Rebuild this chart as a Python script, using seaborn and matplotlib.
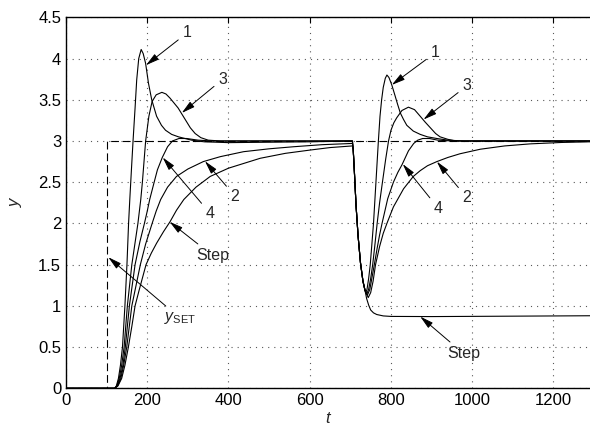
import seaborn as sns
import matplotlib.pyplot as plt
import numpy as np
import pandas as pd

# data
drop_t = [707, 710, 714, 719, 725, 731, 736]
drop_y = [2.9, 2.62, 2.22, 1.85, 1.52, 1.30, 1.19]

c1_t = [0, 120, 124, 129, 134, 139, 145, 150, 154, 157, 161, 165, 170, 174, 179, 185, 190, 196, 203,
        211, 223, 235, 245, 260, 277, 309, 340, 400, 500, 600, 705] + drop_t + \
       [738, 741, 745, 749, 753, 757, 760, 763, 766, 769, 773, 777, 781, 786, 790, 795, 802, 810, 816,
        823, 831, 839, 855, 872, 890, 913, 940, 980, 1290]
c1_y = [0, 0, 0.03, 0.12, 0.28, 0.5, 1.0, 1.5, 2.0, 2.29, 2.65, 3.0, 3.4, 3.74, 4.0, 4.11, 4.06, 3.94, 3.70,
        3.50, 3.30, 3.19, 3.13, 3.08, 3.05, 3.01, 2.99, 2.98, 2.985, 2.99, 3.0] + drop_y + \
       [1.16, 1.2, 1.33, 1.5, 1.75, 2.0, 2.25, 2.5, 2.75, 3.0, 3.3, 3.5, 3.65, 3.76, 3.80, 3.77, 3.68, 3.55, 3.45,
        3.34, 3.26, 3.19, 3.12, 3.08, 3.05, 3.03, 3.01, 3.0, 3.0]

c3_t = [0, 120, 125, 131, 137, 143, 151, 162, 177, 184, 188, 196, 204, 212, 222, 236, 246, 256, 266,
        276, 286, 296, 306, 318, 332, 350, 380, 705] + drop_t + \
       [740, 745, 750, 755, 760, 766, 772, 779, 787, 794, 800, 807, 814, 827, 843, 858, 872, 884, 897,
        910, 921, 940, 960, 1290]
c3_y = [0, 0, 0.03, 0.12, 0.28, 0.5, 1.0, 1.5, 2.0, 2.29, 2.5, 3.0, 3.3, 3.48, 3.56, 3.59, 3.57, 3.52, 3.46,
        3.40, 3.32, 3.24, 3.16, 3.09, 3.04, 3.01, 3.0, 3.0] + drop_y + \
       [1.14, 1.2, 1.33, 1.5, 1.72, 2.0, 2.25, 2.5, 2.78, 3.0, 3.13, 3.22, 3.28, 3.37, 3.41, 3.38, 3.30, 3.23, 3.16,
        3.09, 3.05, 3.02, 3.0, 3.0]

c4_t = [0, 120, 126, 133, 140, 146, 156, 170, 182, 193, 200, 206, 217, 225, 237, 250, 262, 278, 297,
        325, 360, 705] + drop_t + \
       [742, 748, 759, 766, 772, 778, 792, 806, 817, 827, 843, 856, 866, 878, 895, 915, 950, 1290]
c4_y = [0, 0, 0.03, 0.12, 0.28, 0.5, 1.0, 1.5, 1.78, 2.0, 2.15, 2.29, 2.5, 2.65, 2.8, 2.93, 3.0, 3.03, 3.03,
        3.01, 3.0, 3.0] + drop_y + \
       [1.13, 1.2, 1.5, 1.7, 1.86, 2.0, 2.3, 2.5, 2.62, 2.71, 2.88, 2.97, 3.01, 3.03, 3.03, 3.01, 3.0, 3.0]

c2_t = [0, 120, 127, 135, 142, 149.5, 162, 183, 196, 212, 222, 233, 250, 272, 300, 338, 380, 437, 500,
        560, 630, 705] + drop_t + \
       [744, 750, 756, 762, 772, 781, 790, 806, 831, 855, 872, 890, 913, 940, 970, 1020, 1080, 1143, 1220, 1290]
c2_y = [0, 0, 0.03, 0.12, 0.28, 0.5, 1.0, 1.5, 1.75, 2.0, 2.15, 2.29, 2.44, 2.57, 2.66, 2.75, 2.81, 2.87, 2.905,
        2.93, 2.955, 2.97] + drop_y + \
       [1.10, 1.16, 1.3, 1.5, 1.72, 1.88, 2.0, 2.2, 2.42, 2.57, 2.64, 2.7, 2.75, 2.8, 2.845, 2.9, 2.94, 2.965,
        2.982, 2.99]

step_t = [0, 120, 128, 137, 145, 153.5, 162, 170, 180, 197, 210, 223, 240, 256, 272, 290, 320, 355, 400,
          478, 540, 601, 650, 705] + drop_t + \
         [740, 745, 750, 757, 765, 781, 800, 900, 1100, 1290]
step_y = [0, 0, 0.03, 0.12, 0.28, 0.5, 0.75, 1.0, 1.19, 1.5, 1.64, 1.76, 1.9, 2.02, 2.16, 2.29, 2.44, 2.57, 2.67,
          2.79, 2.85, 2.89, 2.92, 2.94] + drop_y + \
         [1.09, 1.01, 0.95, 0.915, 0.895, 0.878, 0.872, 0.87, 0.875, 0.88]

sp_t = [0, 100, 100, 1290]
sp_y = [0, 0, 3, 3]

xticks = [0, 200, 400, 600, 800, 1000, 1200]
yticks = [0, 0.5, 1, 1.5, 2, 2.5, 3, 3.5, 4, 4.5]
ytick_labels = ['0', '0.5', '1', '1.5', '2', '2.5', '3', '3.5', '4', '4.5']

# labels: (text, text position, arrow tip)
labels = [
    ('1', (298, 4.31), (197, 3.92)),
    ('3', (386, 3.75), (285, 3.34)),
    ('4', (355, 2.12), (238, 2.8)),
    ('2', (416, 2.33), (342, 2.755)),
    ('Step', (361, 1.61), (255, 2.02)),
    (r'$y_{\mathrm{SET}}$', (281, 0.85), (104, 1.59)),
    ('1', (909, 4.07), (802, 3.68)),
    ('3', (987, 3.67), (880, 3.26)),
    ('4', (917, 2.18), (829, 2.72)),
    ('2', (987, 2.31), (913, 2.75)),
    ('Step', (979, 0.42), (872, 0.87)),
]

sns.set_style('white')
plt.rcParams['font.family'] = ['Liberation Sans', 'DejaVu Sans']
plt.rcParams['mathtext.fontset'] = 'custom'
plt.rcParams['mathtext.rm'] = 'Liberation Sans'
plt.rcParams['mathtext.it'] = 'Liberation Sans:italic'

fig = plt.figure(figsize=(5.9, 4.34), dpi=100)
ax = fig.add_axes([0.1119, 0.1053, 0.8881, 0.8548])

for t, y in [(c1_t, c1_y), (c3_t, c3_y), (c4_t, c4_y), (c2_t, c2_y), (step_t, step_y)]:
    sns.lineplot(x=t, y=y, ax=ax, color='black', lw=0.8, estimator=None, sort=False)
sns.lineplot(x=sp_t, y=sp_y, ax=ax, color='black', lw=0.8, estimator=None, sort=False,
             linestyle=(0, (7, 3.5)))

for txt, xy_text, xy_tip in labels:
    ax.annotate(txt, xy=xy_tip, xytext=xy_text, ha='center', va='center', fontsize=11.5,
                arrowprops=dict(arrowstyle='-|>,head_length=0.7,head_width=0.18', color='black',
                                lw=0.7, shrinkA=1, shrinkB=0))

ax.set_xlim(0, 1290)
ax.set_ylim(0, 4.5)
ax.set_xticks(xticks)
ax.set_yticks(yticks)
ax.set_yticklabels(ytick_labels)
ax.grid(True, linestyle=(0, (1, 4.5)), color='0.35', linewidth=0.8)
ax.tick_params(direction='in', length=4, width=0.8, top=True, right=False, labelsize=12, colors='black')
ax.spines['right'].set_visible(False)
for s in ['left', 'bottom', 'top']:
    ax.spines[s].set_linewidth(1.0)
    ax.spines[s].set_color('black')
ax.set_xlabel('t', fontsize=12, fontstyle='italic', labelpad=2)
ax.set_ylabel('y', fontsize=12, fontstyle='italic', labelpad=11)

fig.savefig('out.png', dpi=100)
